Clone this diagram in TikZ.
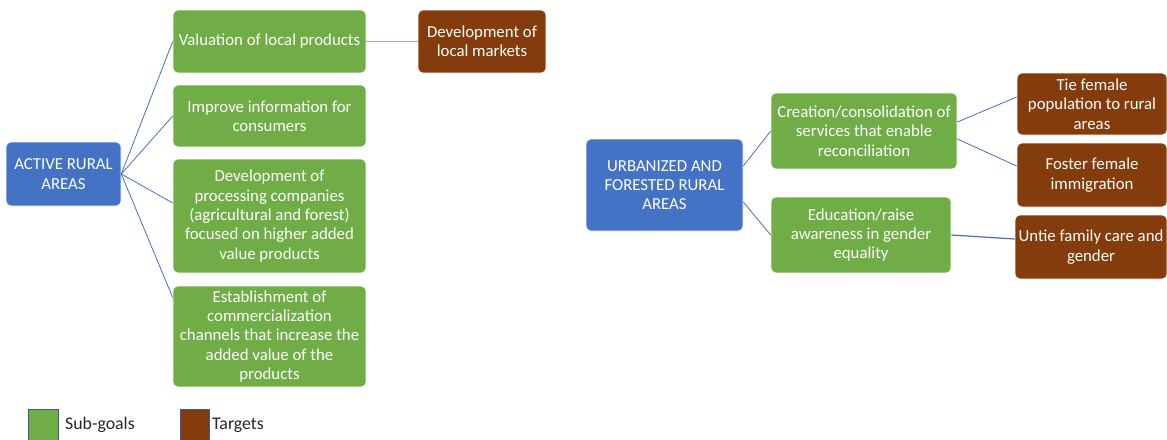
\documentclass[tikz,border=0pt]{standalone}
\usepackage{fontspec}
\setmainfont{Carlito}
\definecolor{goalblue}{HTML}{4472C4}
\definecolor{subgreen}{HTML}{70AD47}
\definecolor{targetbrown}{HTML}{843C0C}
\definecolor{linkblue}{HTML}{4A6FB8}
\definecolor{lightlink}{HTML}{8FAADC}
\tikzset{
  box/.style={rectangle, rounded corners=5pt, draw=white, line width=0.6pt,
    text=white, align=center, inner sep=2pt,
    font=\fontsize{16.8}{19.3}\selectfont},
  goalbox/.style={box, fill=goalblue},
  subbox/.style={box, fill=subgreen},
  targetbox/.style={box, fill=targetbrown},
  link/.style={draw=linkblue, line width=0.8pt},
  flatlink/.style={draw=lightlink, line width=1.8pt},
  keybox/.style={draw=linkblue!80!black, line width=0.6pt},
  keytext/.style={anchor=west, inner sep=0pt, text=black!85,
    font=\fontsize{17.8}{20}\selectfont},
}
\begin{document}
\begin{tikzpicture}[x=1pt, y=-1pt]
    \useasboundingbox (0,0) rectangle (1167,439);
    % left tree
    \node[goalbox, minimum width=115pt, minimum height=64pt] (active)
        at (63.5,174) {ACTIVE RURAL\\AREAS};
    \node[subbox, minimum width=193pt, minimum height=63pt] (valuation)
        at (269.5,41.5) {Valuation of local products};
    \node[subbox, minimum width=193pt, minimum height=62pt] (information)
        at (269.5,116) {Improve information for\\consumers};
    \node[subbox, minimum width=193pt, minimum height=114pt] (processing)
        at (269.5,216) {Development of\\processing companies\\(agricultural and forest)\\focused on higher added\\value products};
    \node[subbox, minimum width=193pt, minimum height=101pt] (channels)
        at (269.5,336.5) {Establishment of\\commercialization\\channels that increase the\\added value of the\\products};
    \node[targetbox, minimum width=128pt, minimum height=63pt] (markets)
        at (482,41.5) {Development of\\local markets};
    \draw[link] (active.east) -- (valuation.west);
    \draw[link] (active.east) -- (information.west);
    \draw[link] (active.east) -- ([yshift=13pt]processing.west);
    \draw[link] (active.east) -- ([yshift=39pt]channels.west);
    \draw[flatlink] (valuation.east) -- (markets.west);
    % right tree
    \node[goalbox, minimum width=157pt, minimum height=92pt] (urban)
        at (664.5,185) {URBANIZED AND\\FORESTED RURAL\\AREAS};
    \node[subbox, minimum width=186pt, minimum height=76pt] (services)
        at (864,131) {Creation/consolidation of\\services that enable\\reconciliation};
    \node[subbox, minimum width=180pt, minimum height=76pt] (education)
        at (861,235) {Education/raise\\awareness in gender\\equality};
    \node[targetbox, minimum width=150pt, minimum height=62pt] (tie)
        at (1092,104) {Tie female\\population to rural\\areas};
    \node[targetbox, minimum width=150pt, minimum height=64pt] (foster)
        at (1092,175) {Foster female\\immigration};
    \node[targetbox, minimum width=152pt, minimum height=64pt] (untie)
        at (1091,247) {Untie family care and\\gender};
    \draw[link] ([yshift=19pt]urban.east) -- (services.west);
    \draw[link] ([yshift=-17pt]urban.east) -- (education.west);
    \draw[link] ([yshift=9pt]services.east) -- ([yshift=7pt]tie.west);
    \draw[link] ([yshift=-8pt]services.east) -- ([yshift=9pt]foster.west);
    \draw[link, line width=1.2pt] (education.east) -- ([yshift=8pt]untie.west);
    % legend
    \filldraw[keybox, fill=subgreen] (28,409) rectangle (58,445);
    \filldraw[keybox, fill=targetbrown] (180,409) rectangle (209,445);
    \node[keytext] (subkey) at (65,425) {Sub-goals};
    \node[keytext] (targetkey) at (212,425) {Targets};
\end{tikzpicture}
\end{document}
